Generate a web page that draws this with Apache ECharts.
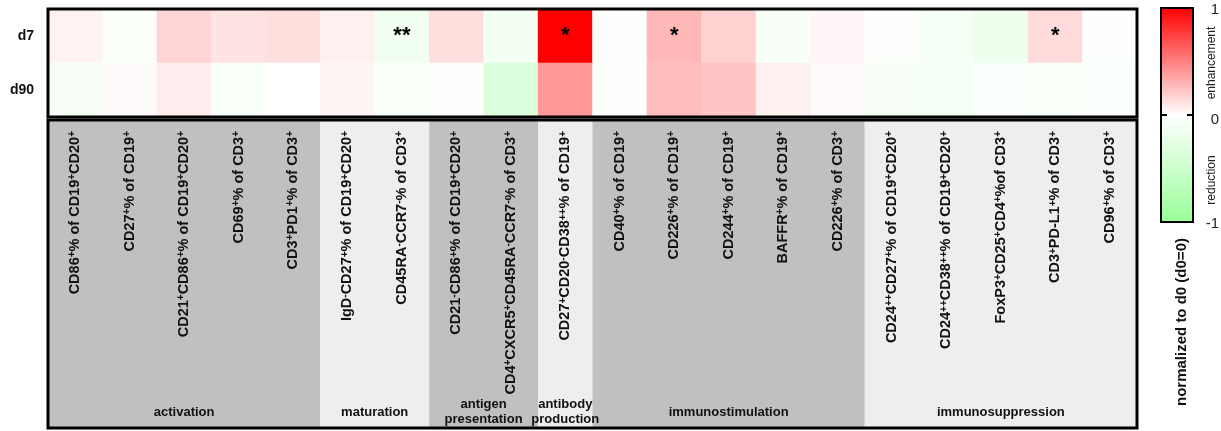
<!DOCTYPE html>
<html><head><meta charset="utf-8">
<script src="https://cdn.jsdelivr.net/npm/echarts@6/dist/echarts.min.js"></script>
<style>html,body{margin:0;padding:0;background:#fff}#c{width:1221px;height:431px}</style>
</head><body><div id="c"></div>
<script>
const categories = [
 'CD86{s|+}% of CD19{s|+}CD20{s|+}',
 'CD27{s|+}% of CD19{s|+}',
 'CD21{s|+}CD86{s|+}% of CD19{s|+}CD20{s|+}',
 'CD69{s|+}% of CD3{s|+}',
 'CD3{s|+}PD1{s|+}% of CD3{s|+}',
 'IgD{s|-}CD27{s|+}% of CD19{s|+}CD20{s|+}',
 'CD45RA{s|-}CCR7{s|-}% of CD3{s|+}',
 'CD21{s|-}CD86{s|+}% of CD19{s|+}CD20{s|+}',
 'CD4{s|+}CXCR5{s|+}CD45RA{s|-}CCR7{s|-}% of CD3{s|+}',
 'CD27{s|+}CD20{s|-}CD38{s|++}% of CD19{s|+}',
 'CD40{s|+}% of CD19{s|+}',
 'CD226{s|+}% of CD19{s|+}',
 'CD244{s|+}% of CD19{s|+}',
 'BAFFR{s|+}% of CD19{s|+}',
 'CD226{s|+}% of CD3{s|+}',
 'CD24{s|++}CD27{s|+}% of CD19{s|+}CD20{s|+}',
 'CD24{s|++}CD38{s|++}% of CD19{s|+}CD20{s|+}',
 'FoxP3{s|+}CD25{s|+}CD4{s|+}%of CD3{s|+}',
 'CD3{s|+}PD-L1{s|+}% of CD3{s|+}',
 'CD96{s|+}% of CD3{s|+}'
];
const rows = ['d7', 'd90'];
const valuesD7  = [0.05, -0.05, 0.17, 0.11, 0.13, 0.06, -0.15, 0.13, -0.12, 1.0, -0.03, 0.28, 0.18, -0.08, 0.03, -0.02, -0.10, -0.17, 0.14, -0.02];
const valuesD90 = [-0.08, 0.02, 0.07, -0.06, 0.0, 0.04, -0.06, -0.02, -0.34, 0.40, -0.03, 0.26, 0.23, 0.06, 0.02, -0.08, -0.10, -0.04, -0.06, -0.04];
const starsD7  = ['', '', '', '', '', '', '**', '', '', '*', '', '*', '', '', '', '', '', '', '*', ''];
const starsD90 = ['', '', '', '', '', '', '', '', '', '', '', '', '', '', '', '', '', '', '', ''];
const groupNames = ['activation', 'maturation', 'antigen\npresentation', 'antibody\nproduction', 'immunostimulation', 'immunosuppression'];
const groupSizes = [5, 2, 2, 1, 5, 5];
const colorbarMin = -1, colorbarMax = 1;
const colorbarLabels = ['1', '0', '-1'];
const colorbarWords = ['enhancement', 'reduction'];
const colorbarTitle = 'normalized to d0 (d0=0)';

const FONT = '"Liberation Sans", Arial, Helvetica, sans-serif';
const values = [valuesD7, valuesD90];
const stars = [starsD7, starsD90];
const heatData = [];
rows.forEach((r, j) => values[j].forEach((v, i) => heatData.push([i, j, v])));
const groupData = [];
let acc = 0;
groupSizes.forEach((n, i) => { groupData.push([acc, acc + n, i]); acc += n; });

function toRich(s) {
  return s.split(/(\{s\|[^}]*\})/).filter(Boolean)
    .map(t => t.startsWith('{s|') ? t : '{n|' + t + '}').join('');
}

const chart = echarts.init(document.getElementById('c'));
const barX = 1161, barY = 8, barW = 32, barH = 214;
chart.setOption({
  animation: false,
  grid: [
    {left: 48, top: 9, width: 1089, height: 108, show: true, borderColor: '#000', borderWidth: 3, backgroundColor: 'transparent', z: 10},
    {left: 48, top: 120, width: 1089, height: 308, show: true, borderColor: '#000', borderWidth: 3, backgroundColor: 'transparent', z: 10}
  ],
  xAxis: [
    {type: 'category', gridIndex: 0, data: categories, z: 20,
     axisLine: {show: false}, axisTick: {show: false}, splitLine: {show: false},
     axisLabel: {interval: 0, rotate: 90, margin: 14, color: '#111', formatter: v => toRich(v),
       rich: {
         n: {fontSize: 14.5, fontWeight: 'bold', fontFamily: FONT, color: '#111', lineHeight: 15, padding: [5, 0, 0, 0], verticalAlign: 'bottom'},
         s: {fontSize: 10, fontWeight: 'bold', fontFamily: FONT, color: '#111', verticalAlign: 'top'}
       }}},
    {type: 'value', gridIndex: 1, min: 0, max: 20, show: false}
  ],
  yAxis: [
    {type: 'category', gridIndex: 0, data: rows, inverse: true,
     axisLine: {show: false}, axisTick: {show: false}, splitLine: {show: false},
     axisLabel: {margin: 14, fontSize: 14, fontWeight: 'bold', fontFamily: FONT, color: '#111'}},
    {type: 'value', gridIndex: 1, min: 0, max: 1, show: false}
  ],
  visualMap: {
    type: 'continuous', min: colorbarMin, max: colorbarMax, calculable: false, show: true,
    seriesIndex: 0, left: barX, top: barY, itemWidth: barW, itemHeight: barH, padding: 0,
    text: null, showLabel: false, hoverLink: false,
    inRange: {color: ['#99ff99', '#ffffff', '#ff0000']}
  },
  series: [
    {type: 'heatmap', xAxisIndex: 0, yAxisIndex: 0, data: heatData,
     itemStyle: {borderWidth: 0},
     label: {show: true, formatter: p => stars[p.data[1]][p.data[0]], fontSize: 22, fontWeight: 'bold', fontFamily: FONT, color: '#000'},
     emphasis: {disabled: true}},
    {type: 'custom', xAxisIndex: 1, yAxisIndex: 1, data: groupData, z: 1, silent: true,
     renderItem: (params, api) => {
       const s = api.value(0), e = api.value(1), idx = api.value(2);
       const p0 = api.coord([s, 1]), p1 = api.coord([e, 0]);
       return {type: 'group', children: [
         {type: 'rect', z2: 0, shape: {x: p0[0], y: p0[1], width: p1[0] - p0[0], height: p1[1] - p0[1]},
          style: {fill: idx % 2 === 0 ? '#c0c0c0' : '#eeeeee'}},
         {type: 'text', z2: 50, style: {text: groupNames[idx], x: (p0[0] + p1[0]) / 2, y: p1[1] - 16,
          align: 'center', verticalAlign: 'middle', font: 'bold 13px ' + FONT, fill: '#111', lineHeight: 15}}
       ]};
     }}
  ],
  graphic: [
    {type: 'rect', shape: {x: barX, y: barY, width: barW, height: barH}, style: {fill: 'none', stroke: '#000', lineWidth: 2}, z: 100},
    {type: 'line', shape: {x1: barX, y1: barY + barH / 2, x2: barX + 6, y2: barY + barH / 2}, style: {stroke: '#000', lineWidth: 2}, z: 100},
    {type: 'line', shape: {x1: barX + barW - 6, y1: barY + barH / 2, x2: barX + barW, y2: barY + barH / 2}, style: {stroke: '#000', lineWidth: 2}, z: 100},
    {type: 'text', x: 1219, y: 10, style: {text: colorbarLabels[0], align: 'right', verticalAlign: 'middle', font: '15px ' + FONT, fill: '#222'}, z: 100},
    {type: 'text', x: 1219, y: 120, style: {text: colorbarLabels[1], align: 'right', verticalAlign: 'middle', font: '15px ' + FONT, fill: '#222'}, z: 100},
    {type: 'text', x: 1219, y: 224, style: {text: colorbarLabels[2], align: 'right', verticalAlign: 'middle', font: '15px ' + FONT, fill: '#222'}, z: 100},
    {type: 'text', x: 1212, y: 63, rotation: Math.PI / 2, style: {text: colorbarWords[0], align: 'center', verticalAlign: 'middle', font: '12px ' + FONT, fill: '#222'}, z: 100},
    {type: 'text', x: 1212, y: 180, rotation: Math.PI / 2, style: {text: colorbarWords[1], align: 'center', verticalAlign: 'middle', font: '12px ' + FONT, fill: '#222'}, z: 100},
    {type: 'text', x: 1182, y: 322, rotation: Math.PI / 2, style: {text: colorbarTitle, align: 'center', verticalAlign: 'middle', font: 'bold 15px ' + FONT, fill: '#111'}, z: 100}
  ]
});
</script>
</body></html>
